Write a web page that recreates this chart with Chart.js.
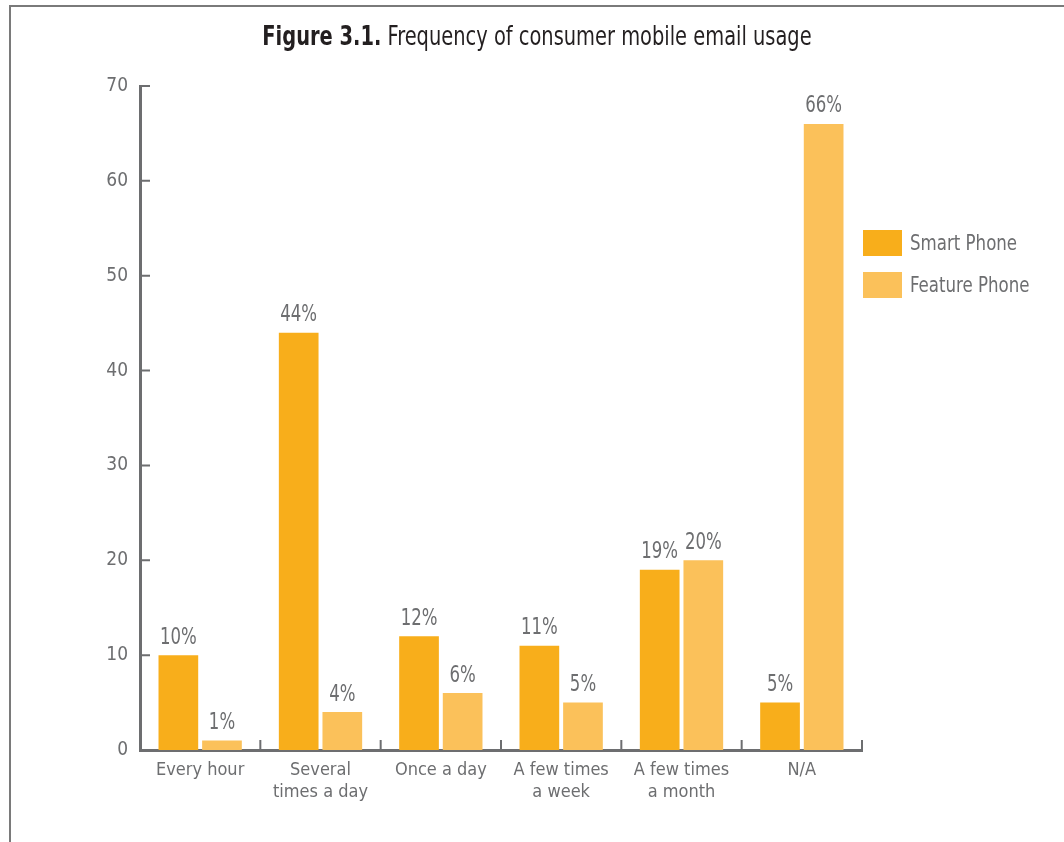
<!DOCTYPE html>
<html>
<head>
<meta charset="utf-8">
<script src="https://cdn.jsdelivr.net/npm/chart.js@4"></script>
<style>
    html, body { margin: 0; padding: 0; background: #fff; }
    #wrap { position: relative; width: 1064px; height: 842px; overflow: hidden; }
    #frame { position: absolute; left: 9px; top: 5px; width: 1100px; height: 900px;
        border-top: 2px solid #7a7a7a; border-left: 2px solid #7a7a7a; }
    #title { position: absolute; left: 0; top: 20px; width: 1074px; text-align: center;
        font-family: "DejaVu Sans Condensed", sans-serif;
        font-size: 27px; color: #231f20; transform: scaleX(0.8); }
    #title b { font-weight: bold; }
    #legend { position: absolute; left: 863px; top: 230px;
        font-family: "DejaVu Sans Condensed", sans-serif;
        font-size: 21px; color: #6d6e70; }
    .item { display: flex; align-items: center; height: 26px; margin-bottom: 16px; }
    .box { width: 39px; height: 26px; margin-right: 8px; }
    .label { display: inline-block; transform: scaleX(0.88); transform-origin: left center; white-space: nowrap; }
    canvas { position: absolute; left: 0; top: 0; }
</style>
</head>
<body>
<div id="wrap">
    <div id="frame"></div>
    <canvas id="emailChart" width="1064" height="842"></canvas>
    <div id="title"><b>Figure 3.1.</b> Frequency of consumer mobile email usage</div>
    <div id="legend"></div>
</div>
<script>
    "use strict";
    // chart data
    const categories = ['Every hour', ['Several', 'times a day'], 'Once a day',
        ['A few times', 'a week'], ['A few times', 'a month'], 'N/A'];
    const smartPhone = [10, 44, 12, 11, 19, 5];
    const featurePhone = [1, 4, 6, 5, 20, 66];
    const yTicks = [0, 10, 20, 30, 40, 50, 60, 70];

    const fontFamily = '"DejaVu Sans Condensed", sans-serif';
    const gray = '#6d6e70';
    const axisGray = '#6d6e70';

    // percent labels above bars (narrowed to look like a condensed face)
    const valueLabels = {
        id: 'valueLabels',
        afterDatasetsDraw: function (chart) {
            const ctx = chart.ctx;
            chart.data.datasets.forEach(function (ds, i) {
                chart.getDatasetMeta(i).data.forEach(function (bar, j) {
                    ctx.save();
                    ctx.font = '23px ' + fontFamily;
                    ctx.fillStyle = gray;
                    ctx.textAlign = 'center';
                    ctx.textBaseline = 'bottom';
                    ctx.translate(bar.x, bar.y - 6);
                    ctx.scale(0.8, 1);
                    ctx.fillText(ds.data[j] + '%', 0, 0);
                    ctx.restore();
                });
            });
        }
    };

    // short tick marks pointing into the plot
    const innerTicks = {
        id: 'innerTicks',
        afterDraw: function (chart) {
            const ctx = chart.ctx;
            const xs = chart.scales.x;
            const ys = chart.scales.y;
            const area = chart.chartArea;
            ctx.save();
            ctx.strokeStyle = axisGray;
            ctx.lineWidth = 2;
            ctx.beginPath();
            yTicks.forEach(function (v) {
                if (v === 0) return;
                const y = ys.getPixelForValue(v);
                ctx.moveTo(area.left, y);
                ctx.lineTo(area.left + 10, y);
            });
            for (let i = 1; i <= categories.length; i++) {
                const x = xs.getPixelForValue(i - 0.5);
                ctx.moveTo(x, area.bottom);
                ctx.lineTo(x, area.bottom - 10);
            }
            ctx.stroke();
            ctx.restore();
        }
    };

    const context = document.getElementById('emailChart').getContext('2d');
    const chart = new Chart(context, {
        type: 'bar',
        data: {
            labels: categories,
            datasets: [{
                label: 'Smart Phone',
                data: smartPhone,
                backgroundColor: '#f8ae1b',
                categoryPercentage: 0.725,
                barPercentage: 0.91
            }, {
                label: 'Feature Phone',
                data: featurePhone,
                backgroundColor: '#fbc15a',
                categoryPercentage: 0.725,
                barPercentage: 0.91
            }]
        },
        options: {
            responsive: false,
            animation: false,
            layout: {
                padding: { top: 86, right: 202, bottom: 0, left: 0 }
            },
            scales: {
                y: {
                    min: 0,
                    max: 70,
                    afterFit: function (scale) { scale.width = 140; },
                    afterBuildTicks: function (scale) {
                        scale.ticks = yTicks.map(function (v) { return { value: v }; });
                    },
                    ticks: {
                        color: gray,
                        padding: 4,
                        font: { family: fontFamily, size: 19 }
                    },
                    grid: { display: false },
                    border: { display: true, color: axisGray, width: 3 }
                },
                x: {
                    afterFit: function (scale) { scale.height = 92; },
                    ticks: {
                        color: gray,
                        padding: 2,
                        maxRotation: 0,
                        autoSkip: false,
                        font: { family: fontFamily, size: 18, lineHeight: 1.2 }
                    },
                    grid: { display: false },
                    border: { display: true, color: axisGray, width: 3 }
                }
            },
            plugins: {
                legend: { display: false },
                tooltip: { enabled: false }
            }
        },
        plugins: [valueLabels, innerTicks]
    });

    // legend built from the datasets
    const legend = document.getElementById('legend');
    chart.data.datasets.forEach(function (ds) {
        const item = document.createElement('div');
        item.className = 'item';
        const box = document.createElement('span');
        box.className = 'box';
        box.style.background = ds.backgroundColor;
        const text = document.createElement('span');
        text.className = 'label';
        text.textContent = ds.label;
        item.appendChild(box);
        item.appendChild(text);
        legend.appendChild(item);
    });
</script>
</body>
</html>
